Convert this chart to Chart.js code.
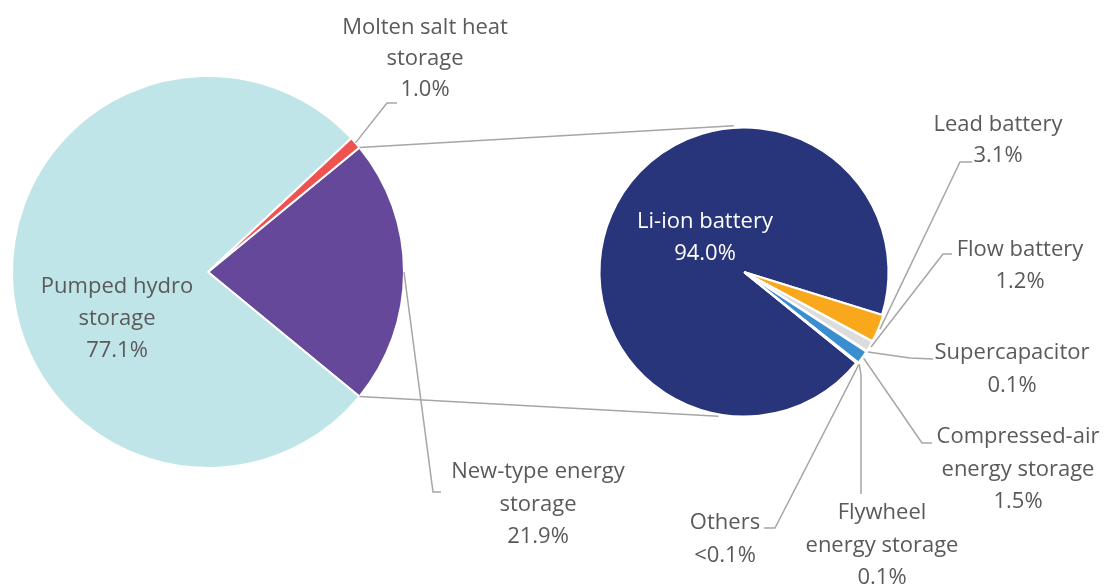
<!DOCTYPE html>
<html><head><meta charset="utf-8">
<script src="https://cdn.jsdelivr.net/npm/chart.js@4.4.1/dist/chart.umd.min.js"></script>
<style>
html,body{margin:0;padding:0;background:#fff;width:1108px;height:587px;overflow:hidden}
canvas{position:absolute;left:0;top:0}
</style></head><body>
<canvas id="c1" width="1108" height="587"></canvas>
<canvas id="c2" width="1108" height="587"></canvas>
<script>
// ---- data ----
const mainCategories = ['New-type energy storage', 'Pumped hydro storage', 'Molten salt heat storage'];
const mainValues = [21.9, 77.1, 1.0];
const mainValueLabels = ['21.9%', '77.1%', '1.0%'];

const newTypeCategories = ['Li-ion battery', 'Lead battery', 'Flow battery', 'Supercapacitor',
  'Compressed-air energy storage', 'Flywheel energy storage', 'Others'];
const newTypeValues = [94.0, 3.1, 1.2, 0.1, 1.5, 0.1, 0.05];
const newTypeValueLabels = ['94.0%', '3.1%', '1.2%', '0.1%', '1.5%', '0.1%', '<0.1%'];

// ---- styles / layout ----
const mainColors = ['#66489A', '#C0E5E8', '#EF5350'];
const newTypeColors = ['#28357A', '#F9A81C', '#DCDCDC', '#9E9E9E', '#3A8ED0', '#7FBF3F', '#B0B0B0'];
const FONT = '22px "Open Sans", "Noto Sans", sans-serif';
const TEXT = '#5A5A5A';
const LINE = '#A6A6A6';

// y = text baselines
const mainLayout = [
  { lines: ['New-type energy', 'storage'], x: 538, y: [478, 511, 543], elbow: [[433, 492], [441, 492]] },
  { lines: ['Pumped hydro', 'storage'], x: 117, y: [293, 325, 357], inside: true },
  { lines: ['Molten salt heat', 'storage'], x: 425, y: [34, 65, 96], elbow: [[387, 103], [397, 103]] }
];
const newTypeLayout = [
  { lines: ['Li-ion battery'], x: 705, y: [228, 260], inside: true, color: '#FFFFFF' },
  { lines: ['Lead battery'], x: 998, y: [131, 162], elbow: [[960, 162], [972, 162]] },
  { lines: ['Flow battery'], x: 1020, y: [256, 288], elbow: [[943, 254], [952, 254]] },
  { lines: ['Supercapacitor'], x: 1012, y: [359, 392], elbow: [[910, 358], [933, 359]] },
  { lines: ['Compressed-air', 'energy storage'], x: 1018, y: [443, 476, 508], elbow: [[922, 443], [932, 443]] },
  { lines: ['Flywheel', 'energy storage'], x: 882, y: [519, 552, 584], elbow: [[861, 375], [861, 494]] },
  { lines: ['Others'], x: 725, y: [529, 562], elbow: [[775, 528], [764, 528]] }
];

function drawLabels(ctx, meta, layout, valueLabels) {
  ctx.save();
  ctx.font = FONT;
  ctx.textAlign = 'center';
  ctx.textBaseline = 'alphabetic';
  meta.data.forEach((arc, i) => {
    const L = layout[i];
    if (!L) return;
    if (L.elbow) {
      const p = arc.getProps(['x', 'y', 'startAngle', 'endAngle', 'outerRadius'], true);
      const mid = (p.startAngle + p.endAngle) / 2;
      const off = arc.options.offset || 0;
      const sx = p.x + Math.cos(mid) * (p.outerRadius + off);
      const sy = p.y + Math.sin(mid) * (p.outerRadius + off);
      ctx.strokeStyle = LINE;
      ctx.lineWidth = 1.5;
      ctx.beginPath();
      ctx.moveTo(sx, sy);
      L.elbow.forEach(pt => ctx.lineTo(pt[0], pt[1]));
      ctx.stroke();
    }
    ctx.fillStyle = L.color || TEXT;
    const all = L.lines.concat([valueLabels[i]]);
    all.forEach((t, k) => ctx.fillText(t, L.x, L.y[k]));
  });
  ctx.restore();
}

let mainChart;

mainChart = new Chart(document.getElementById('c1'), {
  type: 'pie',
  data: { labels: mainCategories, datasets: [{ data: mainValues, backgroundColor: mainColors,
    borderColor: '#FFFFFF', borderWidth: 2 }] },
  options: {
    responsive: false, animation: false, rotation: 50.6,
    layout: { padding: { left: 11, top: 75, right: 703, bottom: 118 } },
    plugins: { legend: { display: false }, tooltip: { enabled: false }, title: { display: false } }
  },
  plugins: [{ id: 'mainLabels', afterDraw(chart) {
    drawLabels(chart.ctx, chart.getDatasetMeta(0), mainLayout, mainValueLabels);
  } }]
});

new Chart(document.getElementById('c2'), {
  type: 'pie',
  data: { labels: newTypeCategories, datasets: [{ data: newTypeValues, backgroundColor: newTypeColors,
    borderColor: '#FFFFFF', borderWidth: 2, offset: [0, 3, 3, 3, 3, 3, 3] }] },
  options: {
    responsive: false, animation: false, rotation: 129,
    layout: { padding: { left: 597, top: 125, right: 217, bottom: 168 } },
    plugins: { legend: { display: false }, tooltip: { enabled: false }, title: { display: false } }
  },
  plugins: [{ id: 'subLabels', afterDraw(chart) {
    const ctx = chart.ctx;
    // connector lines between the new-type slice and the second pie
    const src = mainChart.getDatasetMeta(0).data[0].getProps(['x', 'y', 'startAngle', 'endAngle', 'outerRadius'], true);
    const dst = chart.getDatasetMeta(0).data[0].getProps(['x', 'y', 'outerRadius'], true);
    const ends = [[src.startAngle, -94], [src.endAngle, 100]];
    ctx.save();
    ctx.strokeStyle = LINE; ctx.lineWidth = 1.5;
    ends.forEach(([a, deg]) => {
      const b = deg * Math.PI / 180;
      ctx.beginPath();
      ctx.moveTo(src.x + Math.cos(a) * src.outerRadius, src.y + Math.sin(a) * src.outerRadius);
      ctx.lineTo(dst.x + Math.cos(b) * (dst.outerRadius + 2), dst.y + Math.sin(b) * (dst.outerRadius + 2));
      ctx.stroke();
    });
    ctx.restore();
    drawLabels(ctx, chart.getDatasetMeta(0), newTypeLayout, newTypeValueLabels);
  } }]
});
</script>
</body></html>
